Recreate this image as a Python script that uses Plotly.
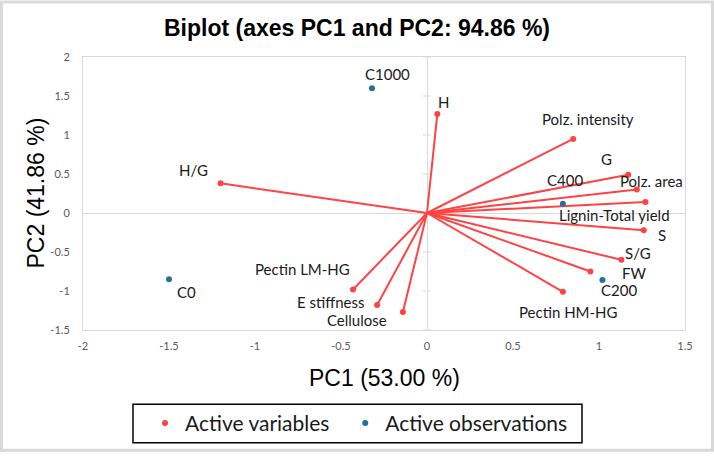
import plotly.graph_objects as go

# ---- data ----
var_names = ["H", "Polz. intensity", "G", "Polz. area", "Lignin-Total yield", "S", "S/G",
             "FW", "Pectin HM-HG", "Cellulose", "E stiffness", "Pectin LM-HG", "H/G"]
var_x = [0.06, 0.85, 1.17, 1.22, 1.27, 1.26, 1.13, 0.95, 0.79, -0.14, -0.29, -0.43, -1.20]
var_y = [1.27, 0.95, 0.49, 0.30, 0.14, -0.22, -0.60, -0.75, -1.01, -1.27, -1.18, -0.98, 0.38]

obs_names = ["C1000", "C400", "C200", "C0"]
obs_x = [-0.32, 0.79, 1.02, -1.50]
obs_y = [1.60, 0.12, -0.86, -0.85]

x_tickvals = [-2, -1.5, -1, -0.5, 0, 0.5, 1, 1.5]
x_ticktext = ["-2", "-1.5", "-1", "-0.5", "0", "0.5", "1", "1.5"]
y_tickvals = [-1.5, -1, -0.5, 0, 0.5, 1, 1.5, 2]
y_ticktext = ["-1.5", "-1", "-0.5", "0", "0.5", "1", "1.5", "2"]

# label offsets in pixels (dx right, dy down)
var_off = {"H": (6, -12), "Polz. intensity": (15, -20), "G": (-22, -16), "Polz. area": (15, -9),
           "Lignin-Total yield": (-31, 13), "S": (18, 5), "S/G": (17, -7), "FW": (44, 1),
           "Pectin HM-HG": (6, 20), "Cellulose": (-46, 8), "E stiffness": (-46, -3),
           "Pectin LM-HG": (-51, -20), "H/G": (-27, -13)}
obs_off = {"C1000": (16, -14), "C400": (2, -24), "C200": (17, 10), "C0": (17, 13)}

RED = "#FF4343"
BLUE = "#23709E"
LABEL_FONT = "Lato, 'Open Sans', sans-serif"

fig = go.Figure()

# vectors from origin
lx, ly = [], []
for x, y in zip(var_x, var_y):
    lx += [0, x, None]
    ly += [0, y, None]
fig.add_trace(go.Scatter(x=lx, y=ly, mode="lines", line=dict(color=RED, width=2),
                         showlegend=False, hoverinfo="skip"))
fig.add_trace(go.Scatter(x=var_x, y=var_y, mode="markers", name="Active variables&nbsp;&nbsp;",
                         marker=dict(color=RED, size=6), text=var_names))
fig.add_trace(go.Scatter(x=obs_x, y=obs_y, mode="markers", name="Active observations",
                         marker=dict(color=BLUE, size=6), text=obs_names))

annotations = []
for n, x, y in zip(var_names, var_x, var_y):
    dx, dy = var_off[n]
    annotations.append(dict(x=x, y=y, text=n, showarrow=False, xshift=dx, yshift=-dy,
                            font=dict(family=LABEL_FONT, size=15, color="#1a1a1a")))
for n, x, y in zip(obs_names, obs_x, obs_y):
    dx, dy = obs_off[n]
    annotations.append(dict(x=x, y=y, text=n, showarrow=False, xshift=dx, yshift=-dy,
                            font=dict(family=LABEL_FONT, size=15, color="#1a1a1a")))

L, R, T, B = 83, 29, 57, 123
W, H = 714, 456
pw, ph = W - L - R, H - T - B


def px2paper_x(p):
    return (p - L) / pw


def px2paper_y(p):
    return (H - B - p) / ph


# axis titles
annotations.append(dict(text="PC1 (53.00 %)", xref="paper", yref="paper", x=0.5,
                        y=px2paper_y(382), showarrow=False, xanchor="center", yanchor="middle",
                        font=dict(family="Liberation Sans, Arial", size=23, color="#000")))
annotations.append(dict(text="PC2 (41.86 %)", xref="paper", yref="paper", x=px2paper_x(35),
                        y=0.5, showarrow=False, textangle=-90, xanchor="center", yanchor="middle",
                        font=dict(family="Liberation Sans, Arial", size=23, color="#000")))

shapes = []
# cross ticks on vertical zero axis
for v in y_tickvals:
    shapes.append(dict(type="line", xref="x", yref="y", xsizemode="pixel", xanchor=0,
                       x0=-4, x1=4, y0=v, y1=v, line=dict(color="#D9D9D9", width=1), layer="below"))
# outer frame
shapes.append(dict(type="rect", xref="paper", yref="paper",
                   x0=px2paper_x(1.5), x1=px2paper_x(W - 1.5),
                   y0=px2paper_y(H - 1.5), y1=px2paper_y(1.5),
                   line=dict(color="#D9D9D9", width=3), fillcolor="rgba(0,0,0,0)"))
# legend box
shapes.append(dict(type="rect", xref="paper", yref="paper",
                   x0=px2paper_x(133), x1=px2paper_x(582),
                   y0=px2paper_y(447), y1=px2paper_y(408),
                   line=dict(color="#000", width=1.5), fillcolor="rgba(0,0,0,0)"))

fig.update_layout(
    width=W, height=H,
    margin=dict(l=L, r=R, t=T, b=B),
    paper_bgcolor="white", plot_bgcolor="white",
    title=dict(text="<b>Biplot (axes PC1 and PC2: 94.86 %)</b>", x=0.5, xref="container",
               y=1 - 28 / H, yref="container", xanchor="center", yanchor="middle",
               font=dict(family="Liberation Sans, Arial", size=23, color="#000")),
    xaxis=dict(range=[-2, 1.5], tickvals=x_tickvals, ticktext=x_ticktext, showgrid=False,
               zeroline=True, zerolinecolor="#D9D9D9", zerolinewidth=1,
               showline=True, mirror=True, linecolor="#D9D9D9", linewidth=1,
               ticks="", ticklabelstandoff=6,
               tickfont=dict(family=LABEL_FONT, size=11, color="#595959")),
    yaxis=dict(range=[-1.5, 2], tickvals=y_tickvals, ticktext=y_ticktext, showgrid=False,
               zeroline=True, zerolinecolor="#D9D9D9", zerolinewidth=1,
               showline=True, mirror=True, linecolor="#D9D9D9", linewidth=1,
               ticks="", ticklabelstandoff=10,
               tickfont=dict(family=LABEL_FONT, size=11, color="#595959")),
    legend=dict(orientation="h", x=px2paper_x(145), y=px2paper_y(427.5), xanchor="left",
                yanchor="middle", borderwidth=0, bgcolor="rgba(0,0,0,0)",
                font=dict(family=LABEL_FONT, size=21, color="#1a1a1a")),
    annotations=annotations, shapes=shapes,
    showlegend=True,
)

fig.write_html("out.html")
